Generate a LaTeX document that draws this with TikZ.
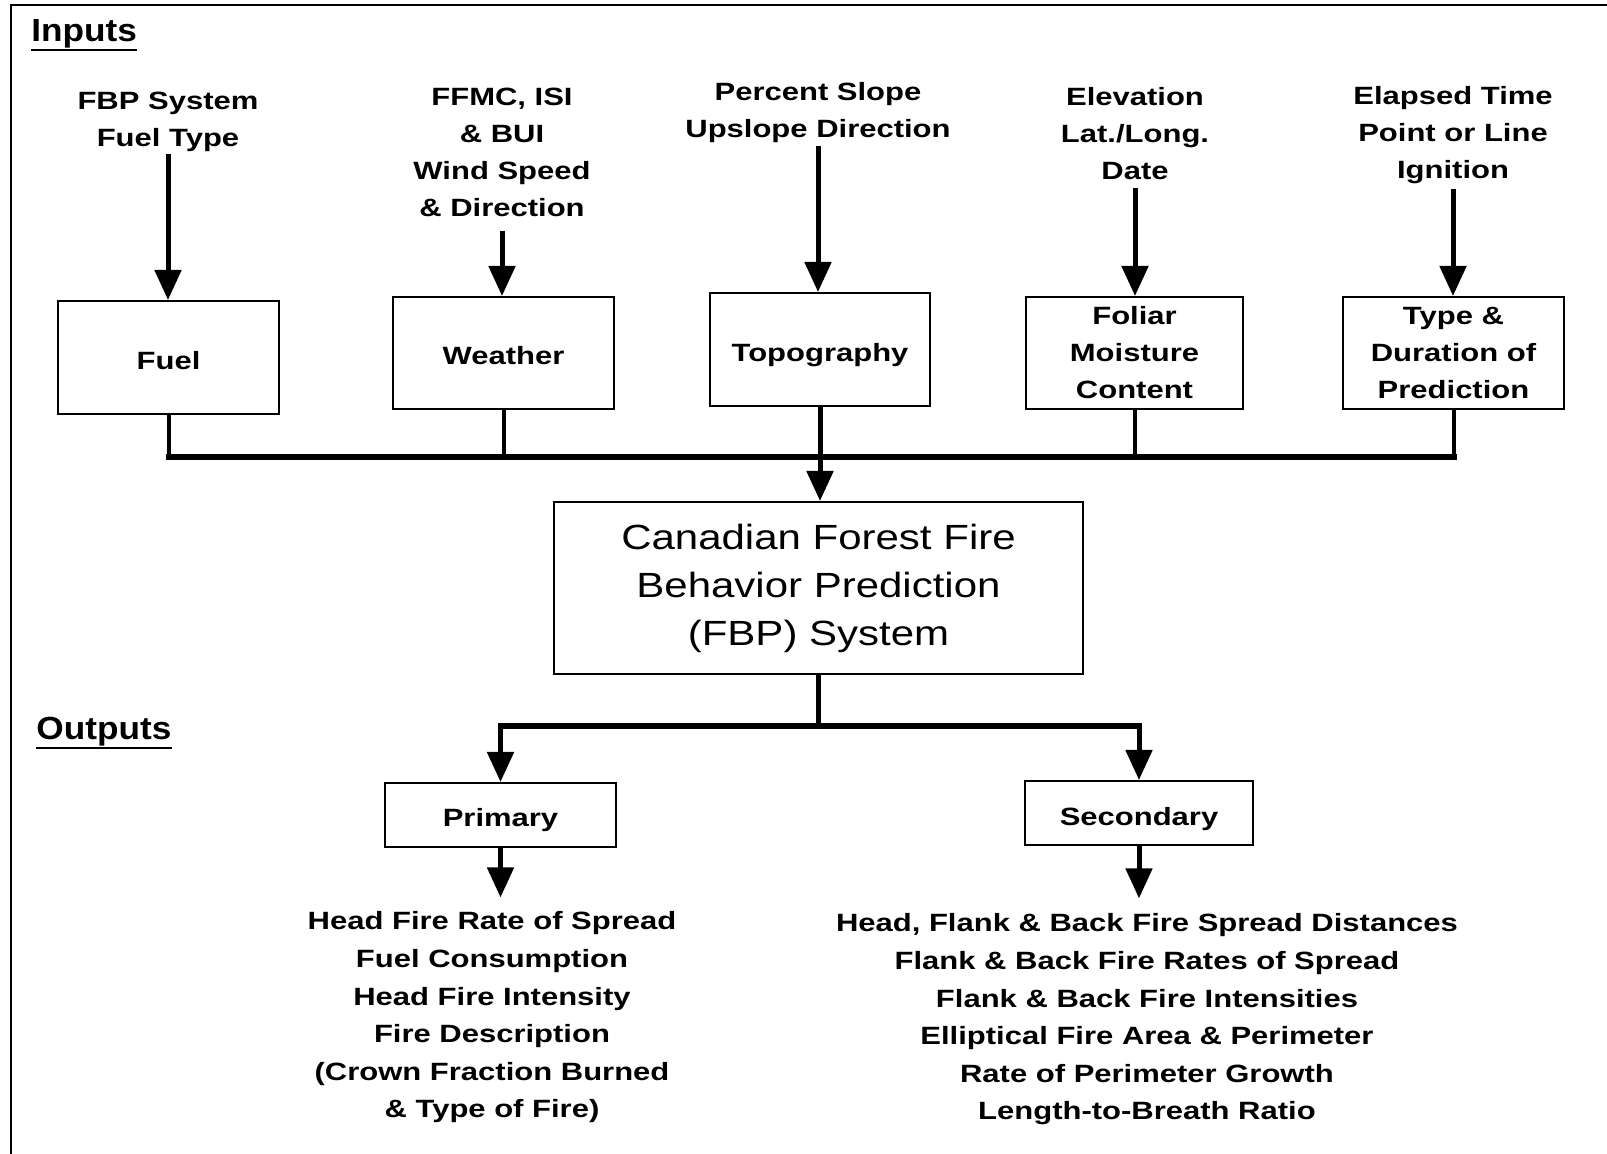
\documentclass[tikz,border=0pt]{standalone}
\usepackage{fontspec}
\setmainfont{Liberation Sans}
\newfontfamily\labelfont[FakeStretch=1.24]{Liberation Sans}
\newfontfamily\titlefont[FakeStretch=1.2]{Liberation Sans}
\newfontfamily\headfont[FakeStretch=1.1]{Liberation Sans}
\usetikzlibrary{arrows.meta}

\begin{document}
\begin{tikzpicture}[x=0.5pt,y=-0.5pt,
  lbl/.style={font=\labelfont\bfseries\fontsize{12.5}{18.5}\selectfont,
              align=center, inner sep=0pt},
  outlist/.style={font=\labelfont\bfseries\fontsize{12.5}{18.8}\selectfont,
              align=center, inner sep=0pt},
  head/.style={font=\headfont\bfseries\fontsize{16}{20}\selectfont, inner sep=0pt},
  box/.style={lbl, draw, line width=1pt},
  oneline/.style={text height=12pt, text depth=0pt},
  feed/.style={line width=2pt},
  bus/.style={line width=3pt, line cap=rect},
  arr/.style={line width=2.5pt, -{Triangle[width=13pt,length=15pt]}},
  underln/.style={line width=1.3pt}]

  % page extent and the open frame (left and top edges)
  \useasboundingbox (0,0) rectangle (1607,1154);
  \fill[white] (0,0) rectangle (1607,1154);
  \draw[line width=1pt] (10.5,1154) -- (10.5,5) -- (1607,5);

  % section headings
  \node[head, anchor=base west] (inputs) at (31,42) {Inputs};
  \draw[underln] ([yshift=-0.5pt]inputs.south west) -- ([yshift=-0.5pt]inputs.south east);
  \node[head, anchor=base west] (outputs) at (36,740) {Outputs};
  \draw[underln] ([yshift=-0.5pt]outputs.south west) -- ([yshift=-0.5pt]outputs.south east);

  % input descriptions
  \node[lbl] (fuelin)    at (168,122)  {FBP System\\Fuel Type};
  \node[lbl] (weatherin) at (502,152)  {FFMC, ISI\\\& BUI\\Wind Speed\\\& Direction};
  \node[lbl] (topoin)    at (818,112.5) {Percent Slope\\Upslope Direction};
  \node[lbl] (foliarin)  at (1135,133.5) {Elevation\\Lat./Long.\\Date};
  \node[lbl] (typein)    at (1453,135.5) {Elapsed Time\\Point or Line\\Ignition};

  % input boxes
  \node[box, oneline, minimum width=110.5pt, minimum height=56.5pt] (fuel)    at (168.5,357.5) {Fuel};
  \node[box, oneline, minimum width=110.5pt, minimum height=56pt]   (weather) at (503.5,353)   {Weather};
  \node[box, oneline, minimum width=110pt,   minimum height=56.5pt] (topo)    at (820,349.5)   {Topography};
  \node[box, minimum width=108.5pt, minimum height=56pt]   (foliar)  at (1134.5,353)  {Foliar\\Moisture\\Content};
  \node[box, minimum width=110.5pt, minimum height=56pt]   (type)    at (1453.5,353)  {Type \&\\Duration of\\Prediction};

  % central system box
  \node[draw, line width=1pt, minimum width=264.5pt, minimum height=86pt, inner sep=0pt,
        align=center, font=\titlefont\fontsize{17.5}{24}\selectfont] (fbp) at (818.5,588)
        {Canadian Forest Fire\\Behavior Prediction\\(FBP) System};

  % output boxes
  \node[box, oneline, minimum width=115.5pt, minimum height=32pt] (primary)   at (500.5,815) {Primary};
  \node[box, oneline, minimum width=114pt,   minimum height=32pt] (secondary) at (1139,813)  {Secondary};

  % output lists
  \node[outlist] (primout) at (492,1017.5)
    {Head Fire Rate of Spread\\Fuel Consumption\\Head Fire Intensity\\Fire Description\\(Crown Fraction Burned\\\& Type of Fire)};
  \node[outlist] (secout) at (1147,1019.5)
    {Head, Flank \& Back Fire Spread Distances\\Flank \& Back Fire Rates of Spread\\Flank \& Back Fire Intensities\\Elliptical Fire Area \& Perimeter\\Rate of Perimeter Growth\\Length-to-Breath Ratio};

  % input arrows
  \draw[arr, shorten <=1pt] (fuelin.south)    -- (fuelin.south |- fuel.north);
  \draw[arr, shorten <=7pt] (weatherin.south) -- (weatherin.south |- weather.north);
  \draw[arr, shorten <=1.5pt] (topoin.south)  -- (topoin.south |- topo.north);
  \draw[arr, shorten <=4pt] (foliarin.south)  -- (foliarin.south |- foliar.north);
  \draw[arr, shorten <=2pt] (typein.south)    -- (typein.south |- type.north);

  % collecting bus into the system box
  \coordinate (inbus) at (820,457);
  \draw[feed] (fuel.south)    -- (fuel.south |- inbus);
  \draw[feed] (weather.south) -- (weather.south |- inbus);
  \draw[feed] (foliar.south)  -- (foliar.south |- inbus);
  \draw[feed] (type.south)    -- (type.south |- inbus);
  \draw[bus] (fuel.south |- inbus) -- (type.south |- inbus);
  \draw[arr] (topo.south) -- (topo.south |- fbp.north);

  % distribution bus to the outputs
  \coordinate (outbus) at (818.5,726);
  \draw[line width=2.5pt] (fbp.south) -- (fbp.south |- outbus);
  \draw[bus] (primary.north |- outbus) -- (secondary.north |- outbus);
  \draw[arr] (primary.north |- outbus)   -- (primary.north);
  \draw[arr] (secondary.north |- outbus) -- (secondary.north);

  % arrows to the output lists
  \draw[arr, shorten >=7pt] (primary.south)   -- (primary.south |- primout.north);
  \draw[arr, shorten >=7.5pt] (secondary.south) -- (secondary.south |- secout.north);
\end{tikzpicture}
\end{document}
